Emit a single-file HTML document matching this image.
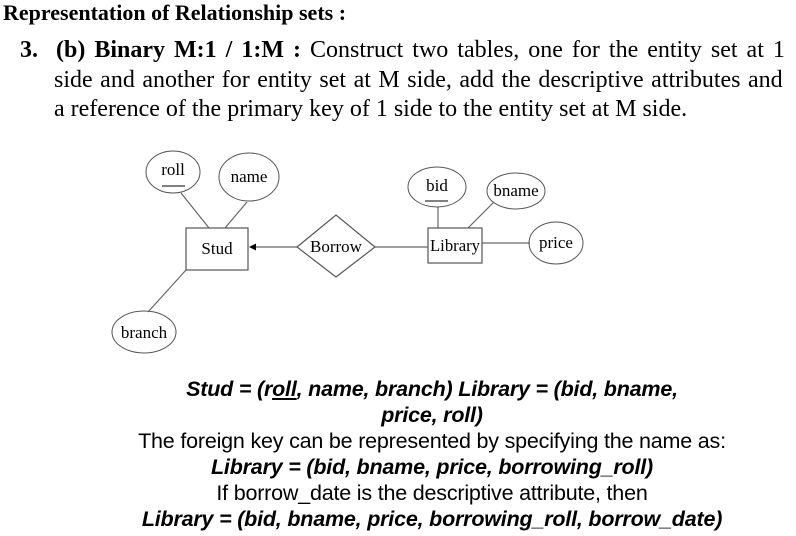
<!DOCTYPE html>
<html><head><meta charset="utf-8"><style>
body{margin:0;width:796px;height:536px;background:#fff;overflow:hidden;position:relative;font-family:"Liberation Serif",serif;color:#000}
.t{position:absolute;white-space:nowrap}
.b{position:absolute;left:100px;width:664px;text-align:center;font-family:"Liberation Sans",sans-serif;font-size:21.5px;line-height:26px;letter-spacing:-0.2px}
.p{position:absolute;left:20px;font-size:24px;line-height:29.5px}
.p div{position:absolute;white-space:nowrap}
</style></head><body>
<div class="t" style="left:3px;top:0px;font-size:22px;font-weight:bold">Representation of Relationship sets :</div>
<div class="p" style="top:36px">
<div style="left:0;top:0;word-spacing:3px"><b>3.&nbsp; (b) Binary M:1 / 1:M :</b> Construct two tables, one for the entity set at 1</div>
<div style="left:34px;top:30px;word-spacing:1.5px">side and another for entity set at M side, add the descriptive attributes and</div>
<div style="left:34px;top:59px">a reference of the primary key of 1 side to the entity set at M side.</div>
</div>
<svg style="position:absolute;left:0;top:0" width="796" height="536" font-family="Liberation Serif,serif" font-size="17" stroke="#555" fill="none">
<g stroke="#666" stroke-width="1.2">
<line x1="181" y1="193" x2="209" y2="228"/><line x1="247" y1="202" x2="225" y2="228"/>
<line x1="186" y1="270" x2="148" y2="312"/>
<line x1="297" y1="247" x2="254" y2="247"/>
<line x1="375" y1="247" x2="428" y2="247"/>
<line x1="438" y1="207" x2="438" y2="228"/><line x1="494" y1="202" x2="468" y2="228"/>
<line x1="482" y1="243" x2="530" y2="243"/>
</g>
<polygon points="249,247 256,243.5 256,250.5" fill="#000" stroke="none"/>
<g><rect x="186" y="228" width="62" height="42" stroke="#555" stroke-width="1.2"/><text x="217" y="254" text-anchor="middle" fill="#000" stroke="none">Stud</text></g>
<g><rect x="428" y="228" width="54" height="35" stroke="#555" stroke-width="1.2"/><text x="455" y="251" text-anchor="middle" fill="#000" stroke="none" textLength="50" lengthAdjust="spacingAndGlyphs">Library</text></g>
<g><polygon points="297,247 336,215 375,247 336,277" stroke-width="1.2"/><text x="336" y="252" text-anchor="middle" fill="#000" stroke="none">Borrow</text></g>
<g><ellipse cx="173" cy="172" rx="27" ry="21"/><text x="173" y="175" text-anchor="middle" fill="#000" stroke="none">roll</text><line x1="162" y1="186" x2="185" y2="186" stroke="#000"/></g>
<g><ellipse cx="249" cy="177" rx="30" ry="24"/><text x="249" y="182" text-anchor="middle" fill="#000" stroke="none">name</text></g>
<g><ellipse cx="144" cy="332" rx="32" ry="21"/><text x="144" y="338" text-anchor="middle" fill="#000" stroke="none">branch</text></g>
<g><ellipse cx="437" cy="187" rx="29" ry="20"/><text x="437" y="191" text-anchor="middle" fill="#000" stroke="none">bid</text><line x1="425" y1="201" x2="448" y2="201" stroke="#000"/></g>
<g><ellipse cx="516" cy="191" rx="29" ry="18"/><text x="516" y="196" text-anchor="middle" fill="#000" stroke="none">bname</text></g>
<g><ellipse cx="556" cy="243" rx="27" ry="21"/><text x="556" y="248" text-anchor="middle" fill="#000" stroke="none">price</text></g>
</svg>
<div class="b" style="top:376px">
<b><i>Stud = <u>(</u>r<u>oll</u>, name, branch) Library = <u>(</u>bid, bname,</i></b><br>
<b><i>price, roll)</i></b><br>
The foreign key can be represented by specifying the name as:<br>
<b><i>Library = <u>(</u>bid, bname, price, borrowing_roll)</i></b><br>
If borrow_date is the descriptive attribute, then<br>
<b><i>Library = <u>(</u>bid, bname, price, borrowing_roll, borrow_date)</i></b>
</div>
</body></html>
